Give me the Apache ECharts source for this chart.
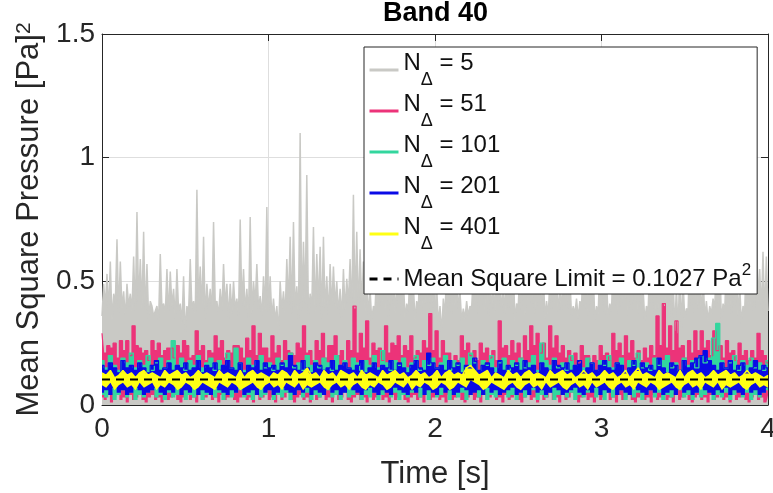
<!DOCTYPE html>
<html><head><meta charset="utf-8">
<script src="https://cdn.jsdelivr.net/npm/echarts@6/dist/echarts.min.js"></script>
<style>html,body{margin:0;padding:0;background:#fff}#c{width:773px;height:493px}</style>
</head><body><div id="c"></div>
<script>
// ---------- data ----------
const chartTitle = 'Band 40';
const xTicks = [0, 1, 2, 3, 4];
const yTicks = [0, 0.5, 1, 1.5];
const tEnd = 4;
const limit = 0.1027;
const seriesNames = ['N5', 'N51', 'N101', 'N201', 'N401', 'lim'];
const seriesLabels = ['5', '51', '101', '201', '401'];

// N=5 : local maxima and minima of the dense trace (alternating)
const grayPeak = [
.49,.53,.58,.45,.67,.58,.46,.49,.45,.60,
.78,.59,.70,.57,.42,.36,.40,.61,.41,.55,
.54,.47,.55,.41,.52,.40,.59,.42,.87,.56,
.68,.49,.47,.74,.42,.47,.57,.49,.49,.50,
.43,.75,.55,.47,.76,.50,.57,.44,.52,.80,
.52,.43,.40,.50,.46,.59,.68,.74,.48,1.10,
.66,.93,.45,.72,.61,.64,.68,.52,.57,.56,
.50,.47,.55,.51,.59,.85,.70,.63,.58,.52,
.47,.40,.55,.61,.49,.66,.52,.58,.47,.63,
.51,.41,.56,.49,.42,.60,.53,.67,.50,.55,
.48,.40,.43,.57,.62,.50,.58,.46,.39,.42,
.40,.53,.65,.49,.56,.71,.52,.48,.60,.54,
.47,.63,.51,.57,.41,.55,.69,.50,.58,.53,
.62,.49,.56,.42,.51,.64,.55,.47,.59,.66,
.52,.40,.43,.42,.58,.50,.62,.55,.40,.57,
.64,.51,.41,.59,.53,.68,.49,.56,.61,.50,
.55,.60,.47,.40,.58,.63,.52,.70,.49,.56,
.61,.52,.48,.57,.50,.39,.62,.55,.66,.51,
.54,.42,.40,.43,.59,.63,.41,.57,.52,.68,
.55,.49,.40,.60,.53,.58,.76,.55,.62,.60];
const grayTrough = [
.36,.40,.38,.34,.41,.37,.39,.35,.40,.38,
.37,.41,.39,.36,.35,.40,.38,.34,.39,.37,
.36,.40,.35,.38,.33,.29,.37,.39,.36,.40,
.38,.35,.39,.37,.41,.36,.38,.40,.35,.37,
.39,.36,.40,.38,.35,.37,.41,.39,.36,.38,
.37,.35,.34,.29,.38,.36,.40,.37,.39,.35,
.38,.41,.36,.39,.37,.40,.35,.38,.36,.39,
.40,.37,.35,.38,.41,.36,.39,.37,.40,.38,
.36,.34,.39,.37,.40,.38,.35,.39,.37,.41,
.36,.35,.38,.40,.34,.39,.37,.41,.36,.38,
.35,.33,.29,.36,.39,.37,.40,.38,.34,.35,
.36,.39,.41,.37,.40,.38,.36,.39,.37,.40,
.38,.36,.39,.37,.34,.40,.38,.36,.41,.39,
.37,.40,.38,.35,.36,.39,.41,.37,.38,.40,
.39,.36,.37,.35,.40,.38,.36,.41,.34,.37,
.39,.36,.35,.38,.40,.37,.39,.41,.36,.38,
.40,.37,.39,.34,.38,.41,.36,.39,.37,.40,
.38,.35,.30,.29,.31,.35,.38,.40,.37,.39,
.36,.35,.34,.37,.39,.41,.33,.38,.40,.37,
.39,.36,.33,.38,.40,.37,.39,.41,.38,.36,
.38];

// N=51 : upper envelope = spikes alternating with the dense top, plus lower envelope
const pinkPeak = [
.29,.24,.25,.26,.26,.32,.23,.22,.26,.25,
.22,.23,.24,.26,.19,.30,.24,.22,.28,.26,
.22,.24,.23,.27,.32,.29,.23,.28,.24,.26,
.21,.25,.32,.22,.26,.29,.24,.28,.22,.26,
.40,.29,.34,.25,.23,.32,.25,.28,.24,.28,
.22,.26,
.37,.30,.26,.21,.20,.28,.25,.22,.25,.23,
.22,.34,.24,.26,.25,.28,.32,.29,.25,.32,
.28,.24,.22,.21,.24,.20,.20,.24,.21,.29,
.25,.28,.26,.22,.23,.24,.36,.41,.32,.34,
.24,.26,.30,.30,.26,.30,.24,.26,.22,.25,
.22,.22,.29,.20];
const pinkMid = [
.21,.23,.19,.22,.20,.24,.21,.18,.22,.20,
.23,.19,.21,.24,.20,.22,.18,.21,.23,.19,
.21,.24,.19,.22,.20,.23,.19,.21,.18,.22,
.20,.23,.21,.18,.22,.19,.24,.20,.18,.22,
.21,.23,.19,.22,.18,.21,.24,.20,.22,.19,
.21,.23,
.22,.19,.21,.18,.18,.22,.20,.18,.21,.19,
.18,.23,.20,.21,.19,.22,.24,.21,.19,.23,
.21,.19,.18,.17,.20,.17,.18,.20,.18,.22,
.20,.21,.19,.18,.19,.20,.24,.23,.22,.23,
.19,.21,.22,.23,.20,.22,.19,.21,.18,.20,
.18,.19,.22,.17];
const pinkLow = [
.03,.02,.04,.01,.03,.05,.02,.03,.01,.04, .02,.03,.05,.02,.01,.03,.04,.02,.03,.01,
.04,.02,.03,.05,.02,.01,.03,.04,.02,.03, .01,.04,.02,.03,.05,.02,.03,.01,.04,.02,
.03,.05,.02,.01,.03,.04,.02,.03,.01,.04, .02,.03,.05,.02,.03,.01,.04,.02,.03,.05,
.02,.01,.03,.04,.02,.03,.01,.04,.02,.03, .05,.02,.03,.01,.04,.02,.03,.05,.02,.01,
.03,.04,.02,.03,.01,.04,.02,.03,.05,.02, .03,.01,.04,.02,.03,.05,.02,.01,.03,.04,
.02,.03,.01,.04,.02,.03,.05,.02,.03,.01, .04,.02,.03,.05,.02,.01,.03,.04,.02,.03,
.01,.04,.02,.03,.05,.02,.03,.01,.04,.02, .03,.05,.02,.01,.03,.04,.02,.03,.01,.04,
.02,.03,.05,.02,.03,.01,.04,.02,.03,.05, .02,.01,.03,.04,.02,.03,.01,.04,.02,.03,
.05,.02,.03,.01,.04,.02,.03,.05,.02,.01, .03,.04,.02,.03,.01,.04,.02,.03,.05,.02,
.03,.01,.04,.02,.03,.05,.02,.01,.03,.04, .02,.03,.01,.04,.02,.03,.05,.02,.03,.01,
.04,.02,.03,.05,.02,.01,.03,.04,.02,.03, .01,.04];

// N=101
const greenUp = [
.18,.15,.20,.16,.14,.19,.17,.21,.15,.18,.16,.20,.14,.17,.19,.15,.18,.26,.16,.19,
.14,.18,.16,.20,.15,.17,.19,.14,.18,.16,.21,.15,.23,.17,.14,.19,.16,.18,.20,.15,
.17,.14,.19,.16,.18,.21,.15,.17,.14,.20,.16,.18,.15,.19,.17,.14,.20,.16,.18,.15,
.19,.17,.14,.18,.16,.20,.15,.22,.17,.14,.18,.16,.19,.15,.17,.20,.14,.18,.16,.19,
.15,.17,.20,.14,.18,.16,.19,.15,.21,.17,.14,.18,.16,.20,.15,.17,.19,.14,.18,.16,
.19,.15,.17,.20,.14,.25,.18,.16,.19,.15,.17,.14,.20,.16,.18,.15,.19,.17,.14,.18,
.16,.20,.15,.17,.19,.14,.18,.16,.21,.15,.17,.14,.19,.16,.18,.20,.15,.17,.14,.19,
.16,.18,.15,.20,.17,.19,.27,.33,.18,.15,.17,.20,.14,.18,.16,.19,.15,.17,.14,.18];
const greenLo = [
.04,.03,.05,.02,.04,.06,.03,.05,.02,.04, .03,.05,.06,.03,.04,.02,.05,.03,.04,.06,
.02,.04,.03,.05,.02,.04,.06,.03,.05,.02, .04,.03,.05,.06,.03,.04,.02,.05,.03,.04,
.06,.02,.04,.03,.05,.02,.04,.06,.03,.05, .02,.04,.03,.05,.06,.03,.04,.02,.05,.03,
.04,.06,.02,.04,.03,.05,.02,.04,.06,.03, .05,.02,.04,.03,.05,.06,.03,.04,.02,.05,
.03,.04,.06,.02,.04,.03,.05,.02,.04,.06, .03,.05,.02,.04,.03,.05,.06,.03,.04,.02,
.05,.03,.04,.06,.02,.04,.03,.05,.02,.04, .06,.03,.05,.02,.04,.03,.05,.06,.03,.04,
.02,.05,.03,.04,.06,.02,.04,.03,.05,.02, .04,.06,.03,.05,.02,.04,.03,.05,.06,.03,
.04,.02,.05,.03,.04,.06,.02,.04,.03,.05, .02,.04,.06,.03,.05,.02,.04,.03,.05,.06];

// N=201
const blueUp = [
.16,.14,.17,.15,.13,.18,.15,.16,.14,.17,.15,.13,.16,.18,.14,.15,.17,.14,.16,.15,
.17,.14,.15,.18,.13,.16,.15,.17,.14,.16,.18,.15,.14,.17,.13,.16,.15,.18,.14,.17,
.15,.16,.14,.17,.15,.20,.16,.14,.18,.15,.13,.17,.16,.14,.15,.18,.14,.16,.17,.15,
.14,.16,.18,.13,.15,.17,.14,.16,.15,.18,.14,.17,.15,.13,.16,.18,.15,.14,.21,.17,
.15,.16,.14,.18,.15,.17,.13,.16,.15,.19,.14,.16,.17,.15,.13,.18,.14,.16,.15,.17,
.14,.18,.15,.16,.13,.17,.15,.14,.18,.16,.15,.17,.14,.16,.18,.13,.15,.17,.14,.16,
.18,.15,.14,.17,.16,.13,.15,.18,.14,.17,.15,.16,.14,.19,.15,.13,.17,.16,.14,.18,
.15,.17,.19,.20,.22,.18,.16,.14,.17,.15,.18,.14,.16,.17,.13,.15,.18,.14,.16,.15];
const blueLo = [
.05,.06,.04,.07,.05,.06,.04,.05,.07,.06, .04,.05,.06,.07,.05,.04,.06,.05,.07,.04,
.06,.05,.07,.04,.06,.05,.04,.07,.06,.05, .04,.06,.05,.07,.04,.05,.06,.04,.07,.05,
.06,.04,.05,.07,.06,.05,.04,.06,.05,.07, .04,.06,.05,.04,.07,.05,.06,.04,.05,.07,
.06,.05,.04,.06,.07,.05,.04,.06,.05,.04, .07,.06,.05,.04,.06,.05,.07,.04,.06,.05,
.04,.07,.05,.06,.04,.05,.07,.06,.04,.05, .06,.04,.07,.05,.06,.04,.05,.06,.07,.04,
.05,.06,.04,.07,.05,.06,.04,.05,.07,.06, .04,.05,.06,.07,.05,.04,.06,.05,.07,.04,
.06,.05,.07,.04,.06,.05,.04,.07,.06,.05, .04,.06,.05,.07,.04,.05,.06,.04,.07,.05,
.06,.04,.05,.07,.06,.05,.04,.06,.05,.07, .04,.06,.05,.04,.07,.05,.06,.04,.05,.07];

// N=401
const yellowUp = [
.13,.12,.14,.11,.12,.14,.12,.13,.11,.13, .14,.12,.13,.12,.11,.14,.12,.13,.14,.12,
.13,.11,.12,.14,.12,.13,.12,.11,.14,.12, .13,.12,.11,.14,.11,.13,.14,.12,.13,.12,
.11,.13,.12,.14,.13,.11,.14,.12,.13,.15, .12,.13,.11,.14,.12,.13,.11,.14,.13,.12,
.13,.11,.14,.12,.13,.12,.11,.14,.12,.13, .14,.12,.13,.11,.12,.14,.12,.13,.11,.12,
.14,.11,.13,.14,.12,.13,.12,.15,.16,.14, .12,.13,.14,.11,.13,.12,.11,.14,.12,.13,
.11,.13,.14,.12,.13,.12,.11,.14,.12,.13, .14,.12,.13,.11,.12,.14,.12,.13,.11,.12,
.14,.12,.13,.11,.12,.14,.11,.13,.15,.12, .13,.12,.11,.14,.12,.13,.12,.11,.14,.11,
.13,.14,.12,.13,.11,.12,.14,.12,.13,.14, .12,.13,.11,.12,.14,.12,.13,.12,.11,.12];
const yellowLo = [
.08,.07,.09,.06,.08,.09,.07,.08,.06,.09, .07,.08,.09,.06,.08,.07,.09,.08,.06,.07,
.09,.08,.06,.07,.09,.08,.07,.06,.09,.08, .07,.09,.08,.06,.07,.08,.09,.07,.06,.08,
.09,.07,.08,.06,.09,.08,.07,.09,.06,.08, .07,.08,.09,.07,.06,.08,.09,.07,.08,.06,
.08,.09,.07,.06,.08,.07,.09,.08,.06,.07, .09,.08,.07,.09,.06,.08,.07,.09,.08,.06,
.07,.09,.08,.06,.07,.09,.08,.07,.10,.09, .08,.06,.07,.09,.08,.07,.06,.08,.09,.07,
.06,.08,.09,.07,.08,.06,.09,.07,.08,.09, .07,.06,.08,.09,.07,.08,.06,.09,.07,.08,
.09,.07,.06,.08,.09,.07,.08,.06,.09,.08, .07,.09,.08,.06,.07,.08,.09,.07,.06,.08,
.09,.07,.08,.06,.09,.08,.07,.09,.06,.08, .07,.08,.09,.07,.06,.08,.09,.07,.08,.07];

// ---------- build ----------
const FONT = '"Liberation Sans", Arial, sans-serif';
const TXT = '#262626';
const C = {gray: '#c9c9c5', pink: '#ec3379', green: '#33d69e', blue: '#0a0ae6', yellow: '#ffff14'};
function tOf(i, n) { return i * tEnd / (n - 1); }
function pairs(arr) { return arr.map((v, i) => [tOf(i, arr.length), v]); }
// value first, time second (encode y:0, x:1) so that stacking acts on the value
function pairsVT(arr) { return arr.map((v, i) => [v, tOf(i, arr.length)]); }
function interleave(a, b) { const r = []; for (let i = 0; i < Math.max(a.length, b.length); i++) { if (i < a.length) r.push(a[i]); if (i < b.length) r.push(b[i]); } return r; }

const gray = interleave(grayTrough, grayPeak);
const pinkUp = interleave(pinkPeak, pinkMid);

function band(name, lo, up, color, step, lw) {
  const thick = up.map((v, i) => Math.max(0, v - lo[i]));
  return [
    {name: name + '_lo', type: 'line', stack: name, data: pairsVT(lo), encode: {x: 1, y: 0},
      symbol: 'none', step: step, silent: true, lineStyle: {opacity: 0, width: 0}, itemStyle: {color: color}},
    {name: name, type: 'line', stack: name, data: pairsVT(thick), encode: {x: 1, y: 0},
      symbol: 'none', step: step, silent: true,
      lineStyle: {color: color, width: lw}, itemStyle: {color: color},
      areaStyle: {color: color, opacity: 1}}
  ];
}

const labelOf = {};
seriesLabels.forEach((l, i) => { labelOf[seriesNames[i]] = '{n|N}{d|Δ}{e| = ' + l + '}'; });
labelOf.lim = '{m|Mean Square Limit = ' + limit + ' Pa}{s|2}';

const chart = echarts.init(document.getElementById('c'), null, {renderer: 'canvas'});
const axisLineStyle = {color: TXT, width: 1};
chart.setOption({
  animation: false,
  backgroundColor: '#fff',
  title: {
    text: chartTitle, left: 383, top: 0, padding: 0,
    textStyle: {fontFamily: FONT, fontSize: 27, fontWeight: 'bold', color: '#000'}
  },
  grid: {left: 102, right: 5, top: 34, bottom: 88, containLabel: false, outerBoundsMode: 'none'},
  legend: {
    orient: 'vertical', left: 364, top: 47,
    data: seriesNames,
    formatter: name => labelOf[name],
    itemWidth: 29, itemHeight: 14, itemGap: 3,
    padding: [4, 6, 3, 4],
    backgroundColor: '#fff', borderColor: TXT, borderWidth: 1,
    itemStyle: {opacity: 0},
    lineStyle: {width: 3},
    textStyle: {
      fontFamily: FONT, fontSize: 24, color: '#111',
      rich: {
        n: {fontFamily: FONT, fontSize: 24, color: '#111', verticalAlign: 'top', lineHeight: 26},
        d: {fontFamily: FONT, fontSize: 18, color: '#111', verticalAlign: 'bottom', lineHeight: 38},
        e: {fontFamily: FONT, fontSize: 24, color: '#111', verticalAlign: 'top', lineHeight: 26},
        m: {fontFamily: FONT, fontSize: 24, color: '#111', lineHeight: 46},
        s: {fontFamily: FONT, fontSize: 17, color: '#111', verticalAlign: 'top', lineHeight: 17, padding: [6, 0, 0, 0]}
      }
    }
  },
  xAxis: [{
    type: 'value', min: 0, max: tEnd, interval: 1, position: 'bottom',
    axisLine: {show: true, onZero: false, lineStyle: axisLineStyle},
    axisTick: {show: true, inside: true, length: 7, lineStyle: axisLineStyle},
    axisLabel: {fontFamily: FONT, fontSize: 28, color: TXT, margin: 10,
      formatter: v => xTicks.includes(v) ? String(v) : ''},
    splitLine: {show: true, lineStyle: {color: '#dedede', width: 1}},
    name: 'Time [s]', nameLocation: 'middle', nameGap: 54,
    nameTextStyle: {fontFamily: FONT, fontSize: 31, color: TXT}
  }, {
    type: 'value', min: 0, max: tEnd, interval: 1, position: 'top',
    axisLine: {show: true, onZero: false, lineStyle: axisLineStyle},
    axisTick: {show: true, inside: true, length: 7, lineStyle: axisLineStyle},
    axisLabel: {show: false}, splitLine: {show: false}
  }],
  yAxis: [{
    type: 'value', min: 0, max: 1.5, interval: 0.5, position: 'left',
    axisLine: {show: true, onZero: false, lineStyle: axisLineStyle},
    axisTick: {show: true, inside: true, length: 7, lineStyle: axisLineStyle},
    axisLabel: {fontFamily: FONT, fontSize: 28, color: TXT, margin: 7,
      formatter: v => yTicks.includes(v) ? String(v) : ''},
    splitLine: {show: true, lineStyle: {color: '#dedede', width: 1}},
    name: 'Mean Square Pressure [Pa]{s|2}', nameLocation: 'middle', nameGap: 56,
    nameTextStyle: {fontFamily: FONT, fontSize: 31, color: TXT,
      rich: {s: {fontFamily: FONT, fontSize: 21, color: TXT, verticalAlign: 'top', lineHeight: 21}}}
  }, {
    type: 'value', min: 0, max: 1.5, interval: 0.5, position: 'right',
    axisLine: {show: true, onZero: false, lineStyle: axisLineStyle},
    axisTick: {show: true, inside: true, length: 7, lineStyle: axisLineStyle},
    axisLabel: {show: false}, splitLine: {show: false}
  }],
  series: [
    {name: 'N5', type: 'line', data: pairs(gray), symbol: 'none', silent: true,
      lineStyle: {color: C.gray, width: 1.5}, itemStyle: {color: C.gray},
      areaStyle: {color: C.gray, opacity: 1}},
    ...band('N51', pinkLow, pinkUp, C.pink, 'middle', 1.2),
    ...band('N101', greenLo, greenUp, C.green, 'middle', 1.2),
    ...band('N201', blueLo, blueUp, C.blue, 'middle', 1.2),
    ...band('N401', yellowLo, yellowUp, C.yellow, false, 1.5),
    {name: 'lim', type: 'line', data: [[0, limit], [tEnd, limit]], symbol: 'none', silent: true,
      lineStyle: {color: '#000', width: 2, type: [8, 6]}, itemStyle: {color: '#000'}}
  ]
});
</script></body></html>
